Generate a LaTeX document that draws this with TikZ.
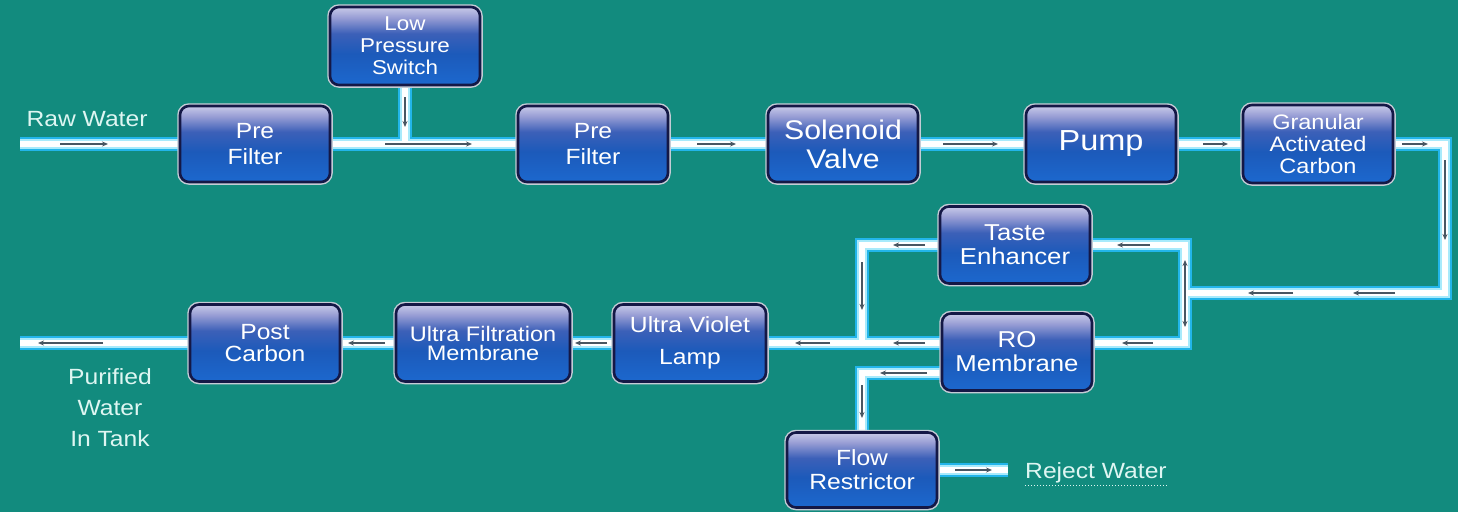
\documentclass[tikz,border=0pt]{standalone}
\usepackage{fontspec}
\setmainfont{Liberation Sans}[FakeStretch=1.12]
\usetikzlibrary{arrows.meta,shadows}
\definecolor{bgteal}{RGB}{18,139,126}
\definecolor{boxb}{RGB}{28,104,206}
\definecolor{boxm}{RGB}{28,90,186}
\definecolor{boxm2}{RGB}{60,96,184}
\definecolor{boxl}{RGB}{150,156,212}
\definecolor{boxt}{RGB}{200,202,232}
\definecolor{navyb}{RGB}{20,24,70}
\definecolor{rimc}{RGB}{196,204,214}
\definecolor{pipecyan}{RGB}{34,181,234}
\definecolor{pipelight}{RGB}{168,234,251}
\definecolor{arrowgray}{RGB}{72,86,98}
\definecolor{lbltext}{RGB}{222,246,242}
\pgfdeclareverticalshading{boxshade}{100bp}{color(0bp)=(boxb); color(25bp)=(boxb); color(45bp)=(boxm); color(58bp)=(boxm2); color(68bp)=(boxl); color(75bp)=(boxt); color(100bp)=(boxt)}
\pgfdeclarelayer{bglayer}
\pgfdeclarelayer{pipelayer}
\pgfsetlayers{bglayer,pipelayer,main}
\tikzset{
  box/.style={drop shadow={shadow xshift=1.5pt, shadow yshift=-2.5pt, opacity=.45},
    preaction={draw=rimc, line width=5.5pt},
    draw=navyb, line width=2.6pt, rounded corners=9pt, shade, shading=boxshade,
    minimum width=150pt, minimum height=76pt, inner sep=0pt, align=center,
    text=white},
  pipeA/.style={draw=pipecyan, line width=14pt, line join=miter},
  pipeB/.style={draw=pipelight, line width=10pt, line join=miter},
  pipeC/.style={draw=white, line width=6pt, line join=miter},
  flow/.style={draw=arrowgray, line width=1.3pt, -{Stealth[length=6pt,width=5pt]}},
  flowboth/.style={draw=arrowgray, line width=1.3pt, {Stealth[length=6pt,width=5pt]}-{Stealth[length=6pt,width=5pt]}},
  lbl/.style={text=lbltext, align=center, inner sep=0pt}
}
\newcommand\pipenet[1]{%
  \draw[#1] (rawin) -- (pf1);
  \draw[#1] (pf1) -- (pf2);
  \draw[#1] (lps) -- (lps |- rawin);
  \draw[#1] (pf2) -- (sv);
  \draw[#1] (sv) -- (pump);
  \draw[#1] (pump) -- (gac);
  \draw[#1] (gac) -- (c1) -- (c2) -- (c3);
  \draw[#1] (te) -- (c4) -- (c5) -- (ro.east |- c5);
  \draw[#1] (te) -- (c6) -- (c7);
  \draw[#1] (ro.west |- c5) -- (uv);
  \draw[#1] (uv) -- (uf);
  \draw[#1] (uf) -- (pc);
  \draw[#1] (pc) -- (outp);
  \draw[#1] (ro.west |- r1) -- (r1) -- (fr);
  \draw[#1] (fr) -- (rj);
}
\begin{document}
\begin{tikzpicture}[x=1pt,y=-1pt]
\useasboundingbox (0,0) rectangle (1458,512);
\begin{pgfonlayer}{bglayer}
\fill[bgteal] (0,0) rectangle (1458,512);
\end{pgfonlayer}

% boxes
\node[box, font=\fontsize{22}{26}\selectfont] (pf1) at (255,144) {Pre\\Filter};
\node[box, minimum height=78pt, font=\fontsize{20}{22}\selectfont] (lps) at (405,46) {Low\\Pressure\\Switch};
\node[box, font=\fontsize{22}{26}\selectfont] (pf2) at (593,144) {Pre\\Filter};
\node[box, font=\fontsize{27}{29}\selectfont] (sv) at (843,144) {Solenoid\\Valve};
\node[box, font=\fontsize{29}{31}\selectfont] (pump) at (1101,144) {Pump};
\node[box, minimum height=78pt, font=\fontsize{21}{22}\selectfont] (gac) at (1318,144) {Granular\\Activated\\Carbon};
\node[box, minimum height=77pt, font=\fontsize{23}{24}\selectfont] (te) at (1015,245) {Taste\\Enhancer};
\node[box, minimum height=77pt, font=\fontsize{23}{24}\selectfont] (ro) at (1017,352) {RO\\Membrane};
\node[box, minimum width=152pt, minimum height=77pt, font=\fontsize{22}{32}\selectfont] (uv) at (690,343) {Ultra Violet\\Lamp};
\node[box, minimum width=174pt, minimum height=77pt, font=\fontsize{21}{19}\selectfont] (uf) at (483,343) {Ultra Filtration\\Membrane};
\node[box, minimum height=77pt, font=\fontsize{22}{22}\selectfont] (pc) at (265,343) {Post\\Carbon};
\node[box, minimum height=75pt, font=\fontsize{22}{24}\selectfont] (fr) at (862,470) {Flow\\Restrictor};

% pipe junctions
\coordinate (rawin) at (20,144);
\coordinate (c1) at (1445,144);
\coordinate (c2) at (1445,293);
\coordinate (c3) at (1185,293);
\coordinate (c4) at (1185,245);
\coordinate (c5) at (1185,343);
\coordinate (c6) at (862,245);
\coordinate (c7) at (862,343);
\coordinate (outp) at (20,343);
\coordinate (r1) at (862,373);
\coordinate (rj) at (1008,470);

\begin{pgfonlayer}{pipelayer}
\pipenet{pipeA}
\pipenet{pipeB}
\pipenet{pipeC}
\end{pgfonlayer}

% flow arrows
\draw[flow] (60,144) -- (108,144);
\draw[flow] (385,144) -- (472,144);
\draw[flow] (697,144) -- (736,144);
\draw[flow] (943,144) -- (998,144);
\draw[flow] (1203,144) -- (1228,144);
\draw[flow] (1402,144) -- (1428,144);
\draw[flow] (405,97) -- (405,127);
\draw[flow] (1445,160) -- (1445,240);
\draw[flow] (1293,293) -- (1248,293);
\draw[flow] (1395,293) -- (1353,293);
\draw[flowboth] (1185,260) -- (1185,327);
\draw[flow] (1150,245) -- (1117,245);
\draw[flow] (925,245) -- (893,245);
\draw[flow] (862,262) -- (862,310);
\draw[flow] (1153,343) -- (1122,343);
\draw[flow] (925,343) -- (893,343);
\draw[flow] (830,343) -- (795,343);
\draw[flow] (607,343) -- (575,343);
\draw[flow] (385,343) -- (348,343);
\draw[flow] (103,343) -- (38,343);
\draw[flow] (927,373) -- (880,373);
\draw[flow] (862,385) -- (862,418);
\draw[flow] (955,470) -- (992,470);

% labels
\node[lbl, anchor=base, font=\fontsize{22}{26}\selectfont] (raw) at (87,126) {Raw Water};
\node[lbl, font=\fontsize{22}{31}\selectfont] (pur) at (110,408) {Purified\\Water\\In Tank};
\node[lbl, anchor=base west, font=\fontsize{22}{26}\selectfont] (rw) at (1025,478) {Reject Water};
\draw[lbltext, dotted, line width=1pt] ([yshift=-7pt]rw.base west) -- ([yshift=-7pt]rw.base east);
\end{tikzpicture}
\end{document}
